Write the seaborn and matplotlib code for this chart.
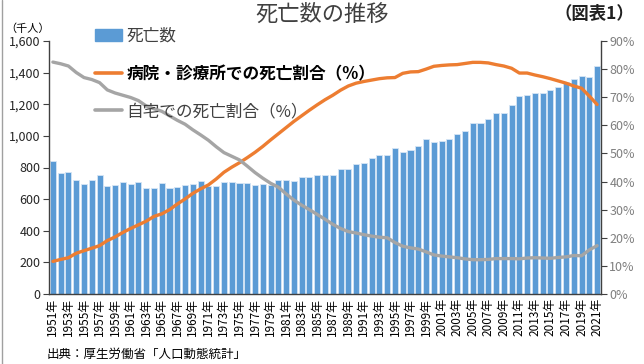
import numpy as np
import pandas as pd
import matplotlib
matplotlib.use("Agg")
import matplotlib.pyplot as plt
import seaborn as sns
from matplotlib.lines import Line2D
from matplotlib.patches import Patch
from matplotlib.ticker import FixedLocator, FuncFormatter

years = list(range(1951, 2022))
deaths = [839, 765, 773, 721, 694, 724, 752, 684, 690, 707,
          696, 710, 671, 673, 700, 670, 675, 687, 694, 713,
          685, 683, 709, 711, 702, 703, 690, 696, 690, 723,
          720, 712, 740, 740, 752, 751, 751, 793, 789, 820,
          830, 857, 879, 876, 922, 896, 913, 936, 982, 962,
          970, 982, 1015, 1029, 1084, 1084, 1108, 1142, 1142, 1197,
          1253, 1256, 1268, 1273, 1290, 1308, 1340, 1362, 1381, 1373,
          1440]
hospital_pct = [11.6, 12.3, 12.9, 14.5, 15.4, 16.3, 17.2, 19.0, 20.3, 21.9,
                23.3, 24.6, 25.9, 27.6, 28.5, 30.0, 32.0, 33.8, 35.8, 37.4,
                38.8, 40.9, 43.3, 45.1, 46.7, 48.5, 50.4, 52.5, 54.8, 57.0,
                59.2, 61.4, 63.4, 65.4, 67.3, 69.1, 70.7, 72.5, 74.0, 75.0,
                75.6, 76.1, 76.6, 76.9, 77.0, 78.5, 79.0, 79.1, 80.0, 81.0,
                81.3, 81.5, 81.6, 82.0, 82.4, 82.4, 82.2, 81.6, 81.1, 80.3,
                78.6, 78.6, 77.9, 77.3, 76.6, 75.8, 75.0, 74.0, 73.2, 70.4,
                67.4]
home_pct = [82.5, 81.9, 81.1, 78.8, 77.0, 76.3, 75.2, 72.6, 71.5, 70.7,
            69.9, 68.8, 66.9, 65.9, 65.0, 63.4, 61.8, 60.4, 58.4, 56.6,
            54.7, 52.4, 50.3, 49.0, 47.7, 45.5, 43.2, 41.2, 39.4, 38.0,
            35.6, 33.4, 31.6, 30.0, 28.3, 26.6, 24.8, 23.3, 22.2, 21.7,
            21.1, 20.6, 20.2, 20.0, 18.3, 17.0, 16.4, 16.0, 15.0, 13.9,
            13.5, 13.2, 12.9, 12.5, 12.2, 12.2, 12.3, 12.6, 12.6, 12.6,
            12.5, 12.8, 12.9, 12.8, 12.7, 13.0, 13.2, 13.7, 13.6, 15.7,
            17.2]
year_labels = [f"{y}年" for y in years]

df = pd.DataFrame({"idx": np.arange(len(years)), "deaths": deaths,
                   "hospital": hospital_pct, "home": home_pct})

sns.set_theme(style="white")
plt.rcParams["font.family"] = ["Noto Sans CJK JP", "DejaVu Sans"]

fig = plt.figure(figsize=(6.44, 3.64), dpi=100)
ax = fig.add_axes([49/644, 1-294/364, 552/644, 253/364])

BLUE = "#5B9BD5"
ORANGE = "#ED7D31"
GRAY = "#A5A5A5"

sns.barplot(data=df, x="idx", y="deaths", ax=ax, color=BLUE, width=0.78,
            saturation=1, edgecolor="#D6E6F5", linewidth=0.6)
ax.set_xlim(-0.5, len(years) - 0.5)
ax.set_ylim(0, 1600)
ax.set_yticks(range(0, 1601, 200))
ax.yaxis.set_major_formatter(FuncFormatter(lambda v, p: f"{int(v):,}"))
ax.set_xlabel("")
ax.set_ylabel("")

ax2 = ax.twinx()
sns.lineplot(data=df, x="idx", y="hospital", ax=ax2, color=ORANGE, linewidth=2.4)
sns.lineplot(data=df, x="idx", y="home", ax=ax2, color=GRAY, linewidth=2.4)
ax2.set_ylim(0, 90)
ax2.set_yticks(range(0, 91, 10))
ax2.yaxis.set_major_formatter(FuncFormatter(lambda v, p: f"{int(v)}%"))
ax2.set_xlim(-0.5, len(years) - 0.5)
ax2.set_xlabel("")
ax2.set_ylabel("")

# x ticks
ax.set_xticks(list(range(0, len(years), 2)))
ax.set_xticklabels(year_labels[::2], rotation=90, fontsize=8.5, color="#000000")
ax.xaxis.set_minor_locator(FixedLocator(np.arange(-0.5, len(years), 1)))
ax.tick_params(axis="x", which="major", length=0, pad=3)
ax.tick_params(axis="x", which="minor", length=3, width=0.8, color="#404040", direction="out")
ax.tick_params(axis="y", labelsize=9, length=4, width=0.8, color="#404040", direction="out", pad=2)
ax2.tick_params(axis="y", labelsize=9, length=4, width=0.8, color="#404040", direction="out",
                labelcolor="#7F7F7F", pad=2)

for a in (ax, ax2):
    a.spines["top"].set_visible(False)
    for s in ("left", "right", "bottom"):
        a.spines[s].set_color("#404040")
        a.spines[s].set_linewidth(1.0)
ax.spines["right"].set_visible(False)
ax2.spines["left"].set_visible(False)
ax2.spines["bottom"].set_visible(False)
ax.grid(False)
ax2.grid(False)
ax.set_zorder(1)
ax2.set_zorder(2)
ax2.patch.set_visible(False)

# legend
handles = [Patch(facecolor=BLUE, edgecolor=BLUE),
           Line2D([0], [0], color=ORANGE, linewidth=2.6),
           Line2D([0], [0], color=GRAY, linewidth=2.6)]
labels = ["死亡数", "病院・診療所での死亡割合（%）", "自宅での死亡割合（%）"]
leg = ax2.legend(handles, labels, loc="upper left", bbox_to_anchor=(95/644, 1-28/364),
                 bbox_transform=fig.transFigure, frameon=False, fontsize=12,
                 labelspacing=1.2, handlelength=1.6, handletextpad=0.3,
                 borderaxespad=0, borderpad=0)
for t in leg.get_texts():
    t.set_color("#404040")
leg.get_texts()[1].set_fontweight("bold")
leg.get_texts()[1].set_color("#000000")

# texts
fig.text(0.5, 1-14/364, "死亡数の推移", ha="center", va="center", fontsize=16, color="#404040")
fig.text(0.985, 1-14/364, "（図表1）", ha="right", va="center", fontsize=12.5,
         fontweight="bold", color="#202020")
fig.text(28/644, 1-29/364, "（千人）", ha="center", va="center", fontsize=8, color="#000000")
fig.text(47/644, 1-354/364, "出典：厚生労働省「人口動態統計」", ha="left", va="center",
         fontsize=9, color="#000000")

fig.add_artist(Line2D([2/644, 2/644], [0, 1], transform=fig.transFigure, color="#A0A0A0", linewidth=1))

fig.savefig("out.png", dpi=100)
